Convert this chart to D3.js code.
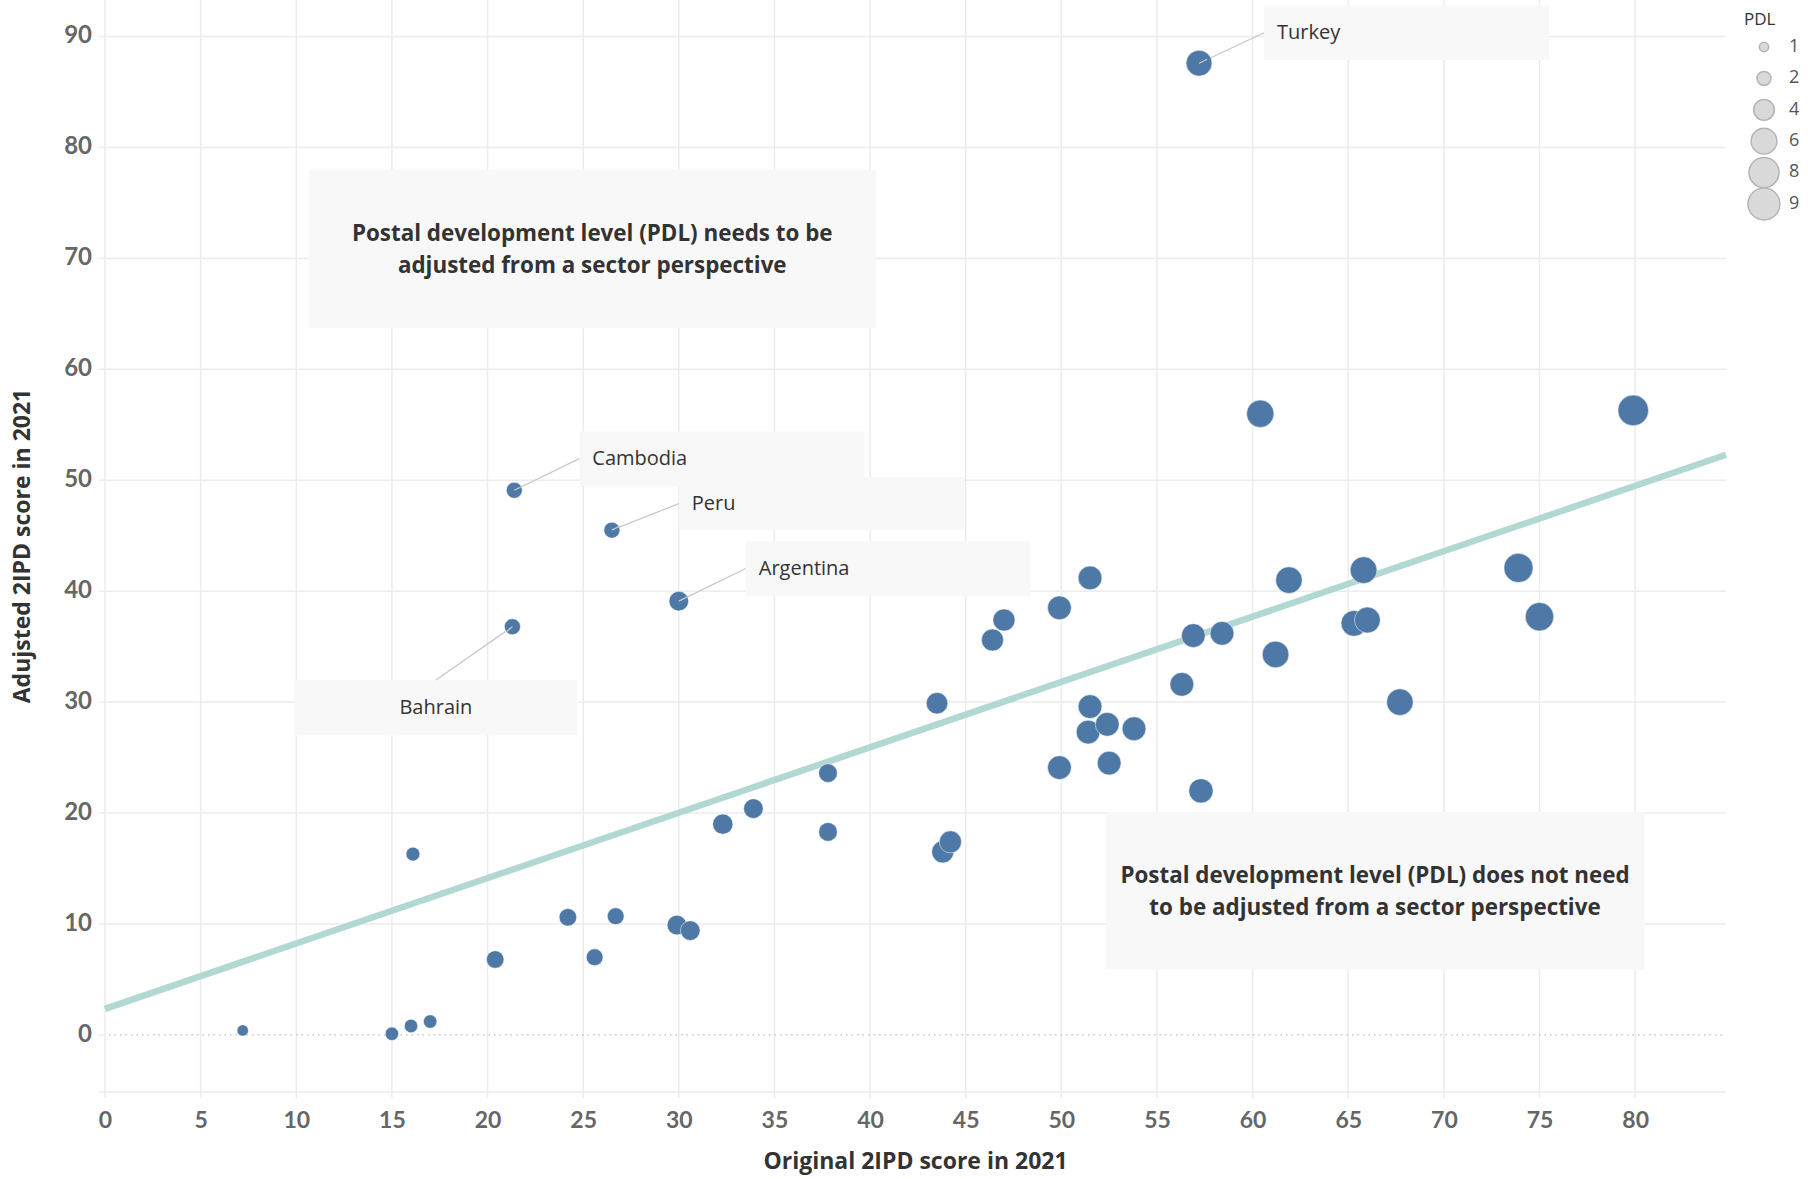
<!DOCTYPE html>
<html>

<head>
    <meta charset="UTF-8">
    <title>2IPD scatter</title>
    <style>
        body { margin: 0; background: #fff; }
        text { font-family: Lato, "Open Sans", sans-serif; }
        .os { font-family: "Open Sans", sans-serif; }
    </style>
</head>

<body>
    <script src="https://cdn.jsdelivr.net/npm/d3@7/dist/d3.min.js"></script>

    <svg id="svg" width="1808" height="1179"></svg>

    <script>
        // original 2IPD score (x), adjusted score (y), PDL (size)
        const originalScore = [7.2, 15.0, 16.0, 17.0, 16.1, 20.4, 21.3, 21.4, 24.2, 25.6, 26.5, 26.7,
            30.0, 29.9, 30.6, 32.3, 33.9, 37.8, 37.8, 43.5, 43.8, 44.2, 46.4, 47.0,
            49.9, 49.9, 51.5, 51.5, 51.4, 52.4, 52.5, 53.8, 56.3, 56.9, 57.3, 57.2,
            58.4, 60.4, 61.2, 61.9, 65.3, 65.8, 66.0, 67.7, 73.9, 75.0, 79.9];
        const adjustedScore = [0.4, 0.1, 0.8, 1.2, 16.3, 6.8, 36.8, 49.1, 10.6, 7.0, 45.5, 10.7,
            39.1, 9.9, 9.4, 19.0, 20.4, 23.6, 18.3, 29.9, 16.5, 17.4, 35.6, 37.4,
            38.5, 24.1, 41.2, 29.6, 27.3, 28.0, 24.5, 27.6, 31.6, 36.0, 22.0, 87.6,
            36.2, 56.0, 34.3, 41.0, 37.1, 41.9, 37.4, 30.0, 42.1, 37.7, 56.3];
        const pdl = [1, 1.4, 1.4, 1.4, 1.5, 2.4, 2, 2, 2.4, 2.2, 2, 2.2,
            3, 3, 3, 3.2, 3, 2.7, 2.7, 3.6, 3.8, 3.8, 3.8, 3.8,
            4.4, 4.4, 4.4, 4.4, 4.4, 4.4, 4.4, 4.4, 4.4, 4.4, 4.6, 5.2,
            4.4, 5.8, 5.5, 5.5, 5.2, 5.6, 5.2, 5.5, 6.6, 6.3, 7.3];

        const legendValues = [1, 2, 4, 6, 8, 9];
        const xTicks = d3.range(0, 81, 5);
        const yTicks = [0, 10, 20, 30, 40, 50, 60, 70, 80, 90];

        // trend line end points
        const trendX = [0, 84.75];
        const trendY = [2.35, 52.3];

        // labelled countries: index into the arrays, label box [x0, y0, x1, y1] in data units
        const callouts = [
            { name: "Turkey", i: 35, box: [60.6, 92.8, 75.5, 87.9], side: "right" },
            { name: "Cambodia", i: 7, box: [24.8, 54.4, 39.7, 49.5], side: "right" },
            { name: "Peru", i: 10, box: [30.0, 50.3, 44.9, 45.5], side: "right" },
            { name: "Argentina", i: 12, box: [33.5, 44.5, 48.4, 39.6], side: "right" },
            { name: "Bahrain", i: 6, box: [9.9, 32.0, 24.7, 27.0], side: "below" }
        ];

        const notes = [
            { lines: ["Postal development level (PDL) needs to be", "adjusted from a sector  perspective"], box: [10.65, 78.0, 40.3, 63.7] },
            { lines: ["Postal development level (PDL) does not need", "to be adjusted from a sector perspective"], box: [52.3, 20.1, 80.5, 5.9] }
        ];

        const svg = d3.select("#svg");
        const plotLeft = 105, plotRight = 1726, plotTop = 0, plotBottom = 1092;

        const x = d3.scaleLinear().domain([0, 84.75]).range([plotLeft, plotRight]);
        const y = d3.scaleLinear().domain([-5.15, 93.3]).range([plotBottom, plotTop]);
        const r = d3.scaleSqrt().domain([0, 9]).range([0, 17]);

        const data = originalScore.map((v, i) => ({ x: v, y: adjustedScore[i], pdl: pdl[i] }));

        // grid
        const grid = svg.append("g");
        grid.selectAll(".vg").data(xTicks).enter().append("line")
            .attr("x1", d => x(d)).attr("x2", d => x(d))
            .attr("y1", plotTop).attr("y2", plotBottom + 6)
            .attr("stroke", "#ececec").attr("stroke-width", 1.5);
        grid.selectAll(".hg").data(yTicks.filter(d => d != 0)).enter().append("line")
            .attr("x1", plotLeft - 6).attr("x2", plotRight)
            .attr("y1", d => y(d)).attr("y2", d => y(d))
            .attr("stroke", "#ececec").attr("stroke-width", 1.5);
        grid.append("line")
            .attr("x1", plotLeft - 6).attr("x2", plotRight)
            .attr("y1", plotBottom).attr("y2", plotBottom)
            .attr("stroke", "#ececec").attr("stroke-width", 1.5);
        grid.append("line")
            .attr("x1", plotLeft - 6).attr("x2", plotLeft)
            .attr("y1", y(0)).attr("y2", y(0))
            .attr("stroke", "#ececec").attr("stroke-width", 1.5);
        // zero line
        grid.append("line")
            .attr("x1", x(0) + 4).attr("x2", plotRight)
            .attr("y1", y(0)).attr("y2", y(0))
            .attr("stroke", "#bdbdbd").attr("stroke-width", 1.2)
            .attr("stroke-dasharray", "1.5,4");

        // axes
        const xAxis = d3.axisBottom(x).tickValues(xTicks).tickSize(0).tickPadding(0);
        svg.append("g").attr("transform", `translate(0,${plotBottom + 30})`).call(xAxis)
            .call(g => g.select(".domain").remove())
            .selectAll("text")
            .attr("font-size", 23).attr("font-weight", "bold").attr("fill", "#666")
            .attr("dy", "0").attr("dominant-baseline", "middle");

        const yAxis = d3.axisLeft(y).tickValues(yTicks).tickSize(0).tickPadding(0);
        svg.append("g").attr("transform", `translate(${plotLeft - 13},0)`).call(yAxis)
            .call(g => g.select(".domain").remove())
            .selectAll("text")
            .attr("font-size", 24).attr("font-weight", "bold").attr("fill", "#666")
            .attr("dy", "0").attr("dominant-baseline", "middle");

        svg.append("text").attr("class", "os")
            .attr("x", (plotLeft + plotRight) / 2).attr("y", 1163)
            .attr("text-anchor", "middle").attr("dominant-baseline", "middle")
            .attr("font-size", 23).attr("font-weight", "bold").attr("fill", "#333")
            .text("Original 2IPD score in 2021");
        svg.append("text").attr("class", "os")
            .attr("transform", `translate(24,${(plotTop + plotBottom) / 2}) rotate(-90)`)
            .attr("text-anchor", "middle").attr("dominant-baseline", "middle")
            .attr("font-size", 23).attr("font-weight", "bold").attr("fill", "#333")
            .text("Adujsted 2IPD score in 2021");

        // note boxes
        const noteG = svg.append("g");
        notes.forEach(n => {
            const x0 = x(n.box[0]), x1 = x(n.box[2]), y0 = y(n.box[1]), y1 = y(n.box[3]);
            noteG.append("rect").attr("x", x0).attr("y", y0)
                .attr("width", x1 - x0).attr("height", y1 - y0).attr("fill", "#f8f8f8");
            n.lines.forEach((t, k) => {
                noteG.append("text").attr("class", "os")
                    .attr("x", (x0 + x1) / 2).attr("y", (y0 + y1) / 2 + (k - 0.5) * 32 + 2)
                    .attr("text-anchor", "middle").attr("dominant-baseline", "middle")
                    .attr("font-size", 22.4).attr("font-weight", "bold").attr("fill", "#333")
                    .text(t);
            });
        });

        // trend line
        svg.append("line")
            .attr("x1", x(trendX[0])).attr("y1", y(trendY[0]))
            .attr("x2", x(trendX[1])).attr("y2", y(trendY[1]))
            .attr("stroke", "#b2d8d3").attr("stroke-width", 6.5);

        // callout boxes and leader lines
        const calloutG = svg.append("g");
        callouts.forEach(c => {
            const d = data[c.i];
            const x0 = x(c.box[0]), x1 = x(c.box[2]), y0 = y(c.box[1]), y1 = y(c.box[3]);
            calloutG.append("rect").attr("x", x0).attr("y", y0)
                .attr("width", x1 - x0).attr("height", y1 - y0).attr("fill", "#f8f8f8");
            let ex, ey;
            if (c.side == "below") {
                ex = (x0 + x1) / 2; ey = y0;
            } else {
                ex = x0; ey = (y0 + y1) / 2;
            }
            calloutG.append("line")
                .attr("x1", x(d.x)).attr("y1", y(d.y))
                .attr("x2", ex).attr("y2", ey)
                .attr("stroke", "#c8c8c8").attr("stroke-width", 1.3);
            calloutG.append("text").attr("class", "os")
                .attr("x", c.side == "below" ? (x0 + x1) / 2 : x0 + 13)
                .attr("y", (y0 + y1) / 2 + 1)
                .attr("text-anchor", c.side == "below" ? "middle" : "start")
                .attr("dominant-baseline", "middle")
                .attr("font-size", 20).attr("fill", "#333")
                .text(c.name);
        });

        // points
        svg.append("g").selectAll("circle")
            .data(data)
            .enter().append("circle")
            .attr("cx", d => x(d.x))
            .attr("cy", d => y(d.y))
            .attr("r", d => r(d.pdl))
            .attr("fill", "#4e79a7")
            .attr("stroke", "#ffffff").attr("stroke-opacity", 0.5).attr("stroke-width", 1);

        // leader line ends sit on top of the dots
        callouts.forEach(c => {
            const d = data[c.i];
            svg.append("line")
                .attr("x1", x(d.x)).attr("y1", y(d.y))
                .attr("x2", x(d.x) + (c.side == "below" ? -6 : 8)).attr("y2", y(d.y) + (c.side == "below" ? 5 : -4))
                .attr("stroke", "#c8c8c8").attr("stroke-width", 1.3);
        });

        // legend
        const legend = svg.append("g");
        legend.append("text").attr("class", "os").attr("x", 1744).attr("y", 20)
            .attr("dominant-baseline", "middle")
            .attr("font-size", 17).attr("fill", "#333").text("PDL");
        const legendY = d3.scalePoint().domain(legendValues).range([47, 204]);
        legend.selectAll("circle").data(legendValues).enter().append("circle")
            .attr("cx", 1764).attr("cy", d => legendY(d))
            .attr("r", d => r(d) - 1)
            .attr("fill", "#d9d9d9").attr("stroke", "#b5b5b5").attr("stroke-width", 1.5);
        legend.selectAll(".lt").data(legendValues).enter().append("text").attr("class", "os")
            .attr("x", 1789).attr("y", d => legendY(d))
            .attr("dominant-baseline", "middle")
            .attr("font-size", 18).attr("fill", "#555").text(d => d);
    </script>

</body>

</html>
